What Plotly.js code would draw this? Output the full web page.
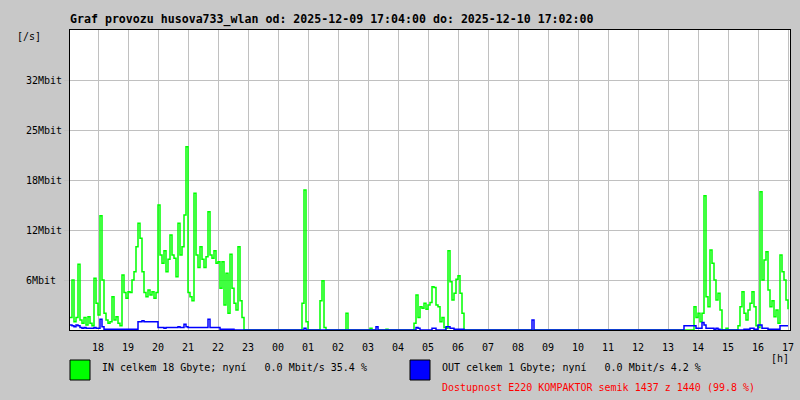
<!DOCTYPE html>
<html>
<head>
<meta charset="utf-8">
<script src="https://cdn.plot.ly/plotly-3.0.1.min.js"></script>
<style>
  html, body { margin: 0; padding: 0; background: #c8c8c8; }
  #chart { width: 800px; height: 400px; }
</style>
</head>
<body>
<div id="chart"></div>
<script>
// ---- DATA ----
const titleText = 'Graf provozu husova733_wlan od: 2025-12-09 17:04:00 do: 2025-12-10 17:02:00';
const rangeStart = '2025-12-09 17:04:00';
const rangeEnd = '2025-12-10 17:04:00';
const firstSample = Date.UTC(2025, 11, 9, 17, 4);
const sampleMinutes = 4;

const yTickVals = [6, 12, 18, 24, 30];
const yTickText = ['6Mbit', '12Mbit', '18Mbit', '25Mbit', '32Mbit'];

// IN traffic, Mbit/s, one row per hour starting 17:04
const inValues = [
  1.5, 6.0, 1.0, 1.5, 7.9, 1.2, 0.8, 1.5, 0.6, 1.6, 0.8, 0.5, 6.2, 3.2, 1.8,
  13.7, 6.0, 2.0, 1.2, 0.8, 1.0, 4.0, 1.2, 1.6, 0.8, 0.5, 6.6, 4.5, 3.8, 4.6,
  4.5, 6.0, 7.0, 10.0, 12.8, 11.0, 7.0, 4.5, 4.0, 4.8, 4.2, 4.6, 3.8, 4.5, 15.0,
  9.0, 8.0, 9.5, 7.0, 8.5, 11.4, 9.0, 8.6, 6.4, 12.8, 9.0, 10.0, 13.8, 22.0, 4.5,
  4.0, 3.5, 16.4, 9.0, 7.5, 10.0, 8.5, 7.5, 8.8, 14.2, 9.0, 8.6, 9.5, 8.0, 8.2,
  5.0, 8.2, 3.0, 6.8, 2.0, 9.1, 5.0, 3.2, 2.4, 10.0, 3.5, 1.5, 0, 0, 0,
  0, 0, 0, 0, 0, 0, 0, 0, 0, 0, 0, 0, 0, 0, 0,
  0, 0, 0, 0, 0, 0, 0, 0, 0, 0, 0, 3.2, 16.8, 1.0, 0,
  0, 0, 0, 0, 0, 3.5, 5.9, 0.3, 0, 0, 0, 0, 0, 0, 0,
  0, 0, 0, 2.0, 0, 0, 0, 0, 0, 0, 0, 0, 0, 0, 0,
  0.2, 0, 0, 0, 0, 0, 0, 0, 0.1, 0, 0, 0, 0, 0, 0,
  0, 0, 0, 0, 0, 0, 0, 0.8, 4.2, 1.5, 2.8, 2.6, 3.2, 2.5, 3.0,
  3.3, 5.2, 5.1, 3.0, 2.8, 1.0, 1.5, 0.3, 0.2, 9.5, 5.8, 3.6, 4.4, 6.1, 6.5,
  4.4, 2.0, 0, 0, 0, 0, 0, 0, 0, 0, 0, 0, 0, 0, 0,
  0, 0, 0, 0, 0, 0, 0, 0, 0, 0, 0, 0, 0, 0, 0,
  0, 0, 0, 0, 0, 0, 0, 0, 0, 0, 0, 0, 0, 0, 0,
  0, 0, 0, 0, 0, 0, 0, 0, 0, 0, 0, 0, 0, 0, 0,
  0, 0, 0, 0, 0, 0, 0, 0, 0, 0, 0, 0, 0, 0, 0,
  0, 0, 0, 0, 0, 0, 0, 0, 0, 0, 0, 0, 0, 0, 0,
  0, 0, 0, 0, 0, 0, 0, 0, 0, 0, 0, 0, 0, 0, 0,
  0, 0, 0, 0, 0, 0, 0, 0, 0, 0, 0, 0, 2.8, 1.5, 2.0,
  1.0, 2.0, 16.1, 4.0, 2.8, 9.6, 8.0, 6.0, 3.6, 4.4, 2.4, 0, 0, 0.2, 0,
  0, 0, 0, 0, 0.5, 2.8, 4.6, 2.0, 1.2, 2.4, 3.2, 4.6, 2.8, 0.5, 0.3,
  16.6, 6.0, 8.4, 9.4, 4.8, 2.8, 3.5, 1.6, 2.4, 0.8, 9.0, 7.0, 6.0, 3.6, 2.5
];

// OUT traffic, Mbit/s, one row per hour starting 17:04
const outValues = [
  0.6, 0.5, 0.4, 0.6, 0.5, 0.3, 0.2, 0.3, 0.2, 0.2, 0.2, 0.2, 0.3, 0.2, 0.2,
  1.3, 0.4, 0.1, 0.1, 0.1, 0.1, 0.1, 0.1, 0.1, 0.1, 0.1, 0.1, 0.1, 0.1, 0.1,
  0.1, 0.1, 0.1, 0.1, 1.0, 1.0, 1.1, 1.0, 1.0, 1.0, 1.0, 1.0, 1.0, 1.0, 0.3,
  0.3, 0.3, 0.2, 0.3, 0.3, 0.3, 0.3, 0.3, 0.3, 0.4, 0.3, 0.3, 0.7, 0.4, 0.3,
  0.3, 0.3, 0.3, 0.3, 0.3, 0.3, 0.3, 0.3, 0.3, 1.3, 0.3, 0.3, 0.3, 0.3, 0.3,
  0.1, 0.1, 0.1, 0.1, 0.1, 0.1, 0.1, 0, 0, 0, 0, 0, 0, 0, 0,
  0, 0, 0, 0, 0, 0, 0, 0, 0, 0, 0, 0, 0, 0, 0,
  0, 0, 0, 0, 0, 0, 0, 0, 0, 0, 0, 0, 0.2, 0, 0,
  0, 0, 0, 0, 0, 0, 0, 0, 0, 0, 0, 0, 0, 0, 0,
  0, 0, 0, 0, 0, 0, 0, 0, 0, 0, 0, 0, 0, 0, 0,
  0, 0, 0, 0.4, 0, 0, 0, 0, 0, 0, 0, 0, 0, 0, 0,
  0, 0, 0, 0, 0, 0, 0, 0, 0.3, 0.2, 0, 0, 0, 0, 0,
  0, 0.2, 0.2, 0, 0, 0, 0, 0, 0.4, 0.4, 0.2, 0.2, 0.1, 0.1, 0.1,
  0.1, 0.1, 0, 0, 0, 0, 0, 0, 0, 0, 0, 0, 0, 0, 0,
  0, 0, 0, 0, 0, 0, 0, 0, 0, 0, 0, 0, 0, 0, 0,
  0, 0, 0, 0, 0, 0, 1.2, 0, 0, 0, 0, 0, 0, 0, 0,
  0, 0, 0, 0, 0, 0, 0, 0, 0, 0, 0, 0, 0, 0, 0,
  0, 0, 0, 0, 0, 0, 0, 0, 0, 0, 0, 0, 0, 0, 0,
  0, 0, 0, 0, 0, 0, 0, 0, 0, 0, 0, 0, 0, 0, 0,
  0, 0, 0, 0, 0, 0, 0, 0, 0, 0, 0, 0, 0, 0, 0,
  0, 0, 0, 0, 0, 0, 0, 0.5, 0.5, 0.5, 0.5, 0.5, 0.5, 0.2, 0.2,
  0.2, 0.9, 0.6, 0.2, 0.2, 0.2, 0.2, 0.1, 0.2, 0.1, 0, 0, 0, 0, 0,
  0, 0, 0, 0, 0, 0, 0, 0.1, 0.1, 0.1, 0.2, 0.2, 0.1, 0.1, 0.6,
  0.6, 0.2, 0.2, 0.2, 0.1, 0.1, 0.1, 0.1, 0.1, 0.1, 0.5, 0.5, 0.5, 0.5, 0.5
];

const yUnitLabel = '[/s]';
const xUnitLabel = '[h]';
const inLegend = 'IN celkem 18 Gbyte; nyní   0.0 Mbit/s 35.4 %';
const outLegend = 'OUT celkem 1 Gbyte; nyní   0.0 Mbit/s 4.2 %';
const availText = 'Dostupnost E220 KOMPAKTOR semik 1437 z 1440 (99.8 %)';

// ---- CHART ----
const times = inValues.map((_, i) => firstSample + i * sampleMinutes * 60000);
const nb = s => s.replace(/ /g, '\u00a0');
const mono = 'DejaVu Sans Mono, monospace';

const traces = [
  { x: times, y: inValues, type: 'scatter', mode: 'lines',
    line: { color: '#00ff00', width: 1.5, shape: 'hv' }, name: 'IN' },
  { x: times, y: outValues, type: 'scatter', mode: 'lines',
    line: { color: '#0000ff', width: 1.5, shape: 'hv' }, name: 'OUT' }
];

const maxLen = Math.max(...yTickText.map(t => t.length));

const layout = {
  width: 800, height: 400,
  paper_bgcolor: '#c8c8c8', plot_bgcolor: '#ffffff',
  margin: { l: 70, r: 10, t: 30, b: 70 },
  showlegend: false,
  hovermode: false,
  font: { family: mono, size: 10, color: '#000000' },
  title: {
    text: titleText, xref: 'container', yref: 'container',
    x: 70 / 800, xanchor: 'left', y: 1 - 19 / 400, yanchor: 'middle',
    font: { family: mono, size: 11.6, weight: 'bold', color: '#000000' }
  },
  xaxis: {
    type: 'date', range: [rangeStart, rangeEnd],
    tick0: '2025-12-09 18:00:00', dtick: 3600000, tickformat: '%H',
    showgrid: true, gridcolor: '#c0c0c0', gridwidth: 1,
    showline: true, linecolor: '#000000', linewidth: 1, mirror: true,
    ticks: '', ticklabelstandoff: 8,
    zeroline: false, fixedrange: true,
    tickfont: { family: mono, size: 10, color: '#000000' }
  },
  yaxis: {
    range: [0, 36], tickmode: 'array', tickvals: yTickVals,
    ticktext: yTickText.map(t => t + '\u00a0'.repeat(maxLen - t.length)),
    showgrid: true, gridcolor: '#c0c0c0', gridwidth: 1,
    showline: true, linecolor: '#000000', linewidth: 1, mirror: true,
    ticks: 'outside', ticklen: 5, tickcolor: '#c0c0c0', tickwidth: 1,
    zeroline: false, fixedrange: true,
    tickfont: { family: mono, size: 10, color: '#000000' }
  },
  shapes: [
    { type: 'rect', xref: 'paper', yref: 'paper', x0: 0, x1: 20 / 720, y0: -30 / 300, y1: -50 / 300,
      fillcolor: '#00ff00', line: { color: '#000000', width: 1 } },
    { type: 'rect', xref: 'paper', yref: 'paper', x0: 340 / 720, x1: 360 / 720, y0: -30 / 300, y1: -50 / 300,
      fillcolor: '#0000ff', line: { color: '#000000', width: 1 } }
  ],
  annotations: [
    { text: yUnitLabel, xref: 'paper', yref: 'paper', x: -55 / 720, y: (330 - 37) / 300,
      xanchor: 'left', yanchor: 'middle', showarrow: false, font: { family: mono, size: 10 } },
    { text: xUnitLabel, xref: 'paper', yref: 'paper', x: 699 / 720, y: (330 - 358) / 300,
      xanchor: 'left', yanchor: 'middle', showarrow: false, font: { family: mono, size: 10 } },
    { text: nb(inLegend), xref: 'paper', yref: 'paper', x: 30 / 720, y: (330 - 367) / 300,
      xanchor: 'left', yanchor: 'middle', showarrow: false, font: { family: mono, size: 10 } },
    { text: nb(outLegend), xref: 'paper', yref: 'paper', x: 370 / 720, y: (330 - 367) / 300,
      xanchor: 'left', yanchor: 'middle', showarrow: false, font: { family: mono, size: 10 } },
    { text: nb(availText), xref: 'paper', yref: 'paper', x: 370 / 720, y: (330 - 387) / 300,
      xanchor: 'left', yanchor: 'middle', showarrow: false, font: { family: mono, size: 10, color: '#ff0000' } }
  ]
};

Plotly.newPlot('chart', traces, layout, { staticPlot: true, displayModeBar: false });
</script>
</body>
</html>
